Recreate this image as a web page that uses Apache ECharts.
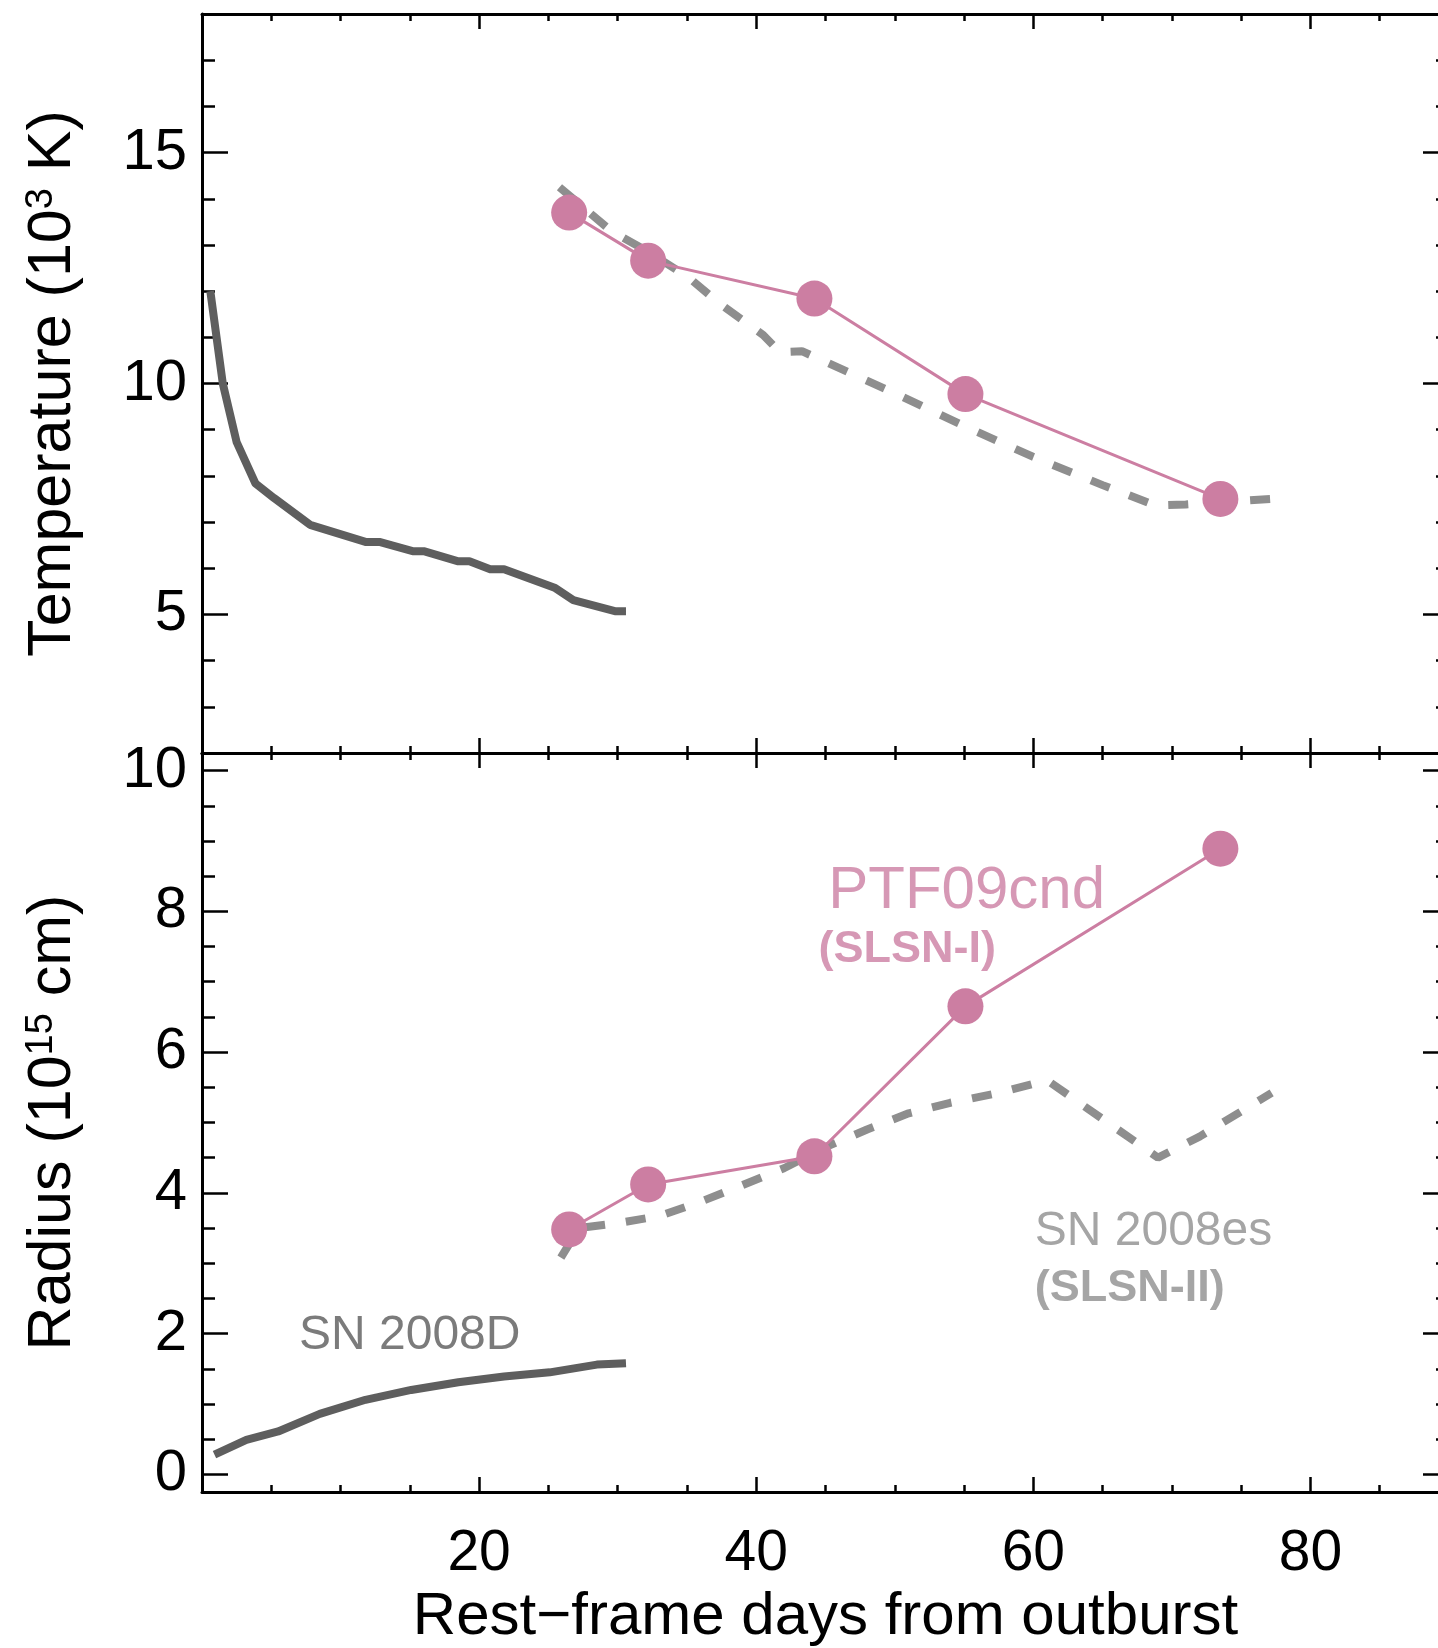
<!DOCTYPE html>
<html><head><meta charset="utf-8">
<script src="https://cdn.jsdelivr.net/npm/echarts@6/dist/echarts.min.js"></script>
<style>html,body{margin:0;padding:0;background:#fff;overflow:hidden;width:1438px;height:1648px}#c{width:1452px;height:1648px}</style>
</head><body><div id="c"></div><script>
// ---- data ----
const sn08D_days_T = [0.6,1.5,2.5,3.85,5.2,7.8,11.8,12.8,15.2,16.0,18.5,19.3,20.8,21.8,25.5,26.8,29.8,30.6];
const sn08D_T      = [12.0,10.0,8.73,7.84,7.52,6.94,6.57,6.57,6.37,6.37,6.15,6.15,5.98,5.98,5.57,5.31,5.07,5.07];
const sn08D_days_R = [0.9,3.2,5.5,8.5,11.8,15.1,18.5,21.8,25.1,28.5,30.6];
const sn08D_R      = [0.28,0.49,0.61,0.86,1.06,1.2,1.31,1.39,1.45,1.56,1.58];

const ptf_days = [26.5,32.2,44.2,55.1,73.5];
const ptf_T    = [13.7,12.66,11.84,9.77,7.5];
const ptf_R    = [3.48,4.12,4.52,6.65,8.89];

const sn08es_days_T = [25.8,29.5,32.1,35.1,37.4,40.5,41.7,43.3,50,55,60,65,68.8,71,77.2];
const sn08es_T      = [14.25,13.31,12.87,12.3,11.72,11.05,10.68,10.7,9.79,9.08,8.41,7.8,7.36,7.38,7.5];
const sn08es_days_R = [25.9,27.2,30,33,35.8,38,42,45,48,51,54,57.5,61,65,69,72,77.2];
const sn08es_R      = [3.08,3.5,3.57,3.67,3.86,4.03,4.35,4.65,4.9,5.13,5.28,5.42,5.6,5.05,4.5,4.8,5.42];

const xMajorTicks = [20,40,60,80];
const xMinorTicks = [5,10,15,20,25,30,35,40,45,50,55,60,65,70,75,80,85];
const tMajorTicks = [5,10,15];
const tMinorTicks = [3,4,5,6,7,8,9,10,11,12,13,14,15,16,17];
const rMajorTicks = [0,2,4,6,8,10];
const rMinorTicks = [0,0.5,1,1.5,2,2.5,3,3.5,4,4.5,5,5.5,6,6.5,7,7.5,8,8.5,9,9.5,10];

const annText  = ['PTF09cnd','(SLSN-I)','SN 2008es','(SLSN-II)','SN 2008D'];
const annDay   = [45.2,44.5,60.1,60.1,7.0];
const annValue = [8.28,7.45,3.45,2.64,1.97];

// ---- styling ----
const FONT = '"Liberation Sans", Arial, Helvetica, sans-serif';
const PINK = '#cc7ea2', DARK = '#5e5e5e', DASH = '#8e8e8e';
const annStyle = [
  {color: PINK, fontSize: 60, fontWeight: 'normal'},
  {color: PINK, fontSize: 45, fontWeight: 'bold'},
  {color: '#8e8e8e', fontSize: 48, fontWeight: 'normal'},
  {color: '#8e8e8e', fontSize: 45, fontWeight: 'bold'},
  {color: '#5a5a5a', fontSize: 48, fontWeight: 'normal'}
];

const grids = [
  {left: 202, width: 1247, top: 14, height: 739},
  {left: 202, width: 1247, top: 753, height: 740}
];
const XMIN = 0, XMAX = 90;
const yRanges = [[2,18],[-0.25,10.25]];
const yMaj = [tMajorTicks, rMajorTicks], yMin = [tMinorTicks, rMinorTicks];

const xAxes = [], yAxes = [];
function xAx(g, pos, major, showLabel, showName) {
  const a = {
    type: 'value', gridIndex: g, position: pos, min: XMIN, max: XMAX,
    axisLine: {show: major, onZero: false, lineStyle: {color: '#000', width: 3}},
    axisTick: {show: true, inside: true, length: major ? 15 : 7,
      customValues: major ? xMajorTicks : xMinorTicks, lineStyle: {color: '#000', width: 2.5}},
    axisLabel: {show: showLabel, customValues: xMajorTicks, color: '#000', fontFamily: FONT, fontSize: 57, margin: 34},
    splitLine: {show: false}
  };
  if (showName) {
    a.name = 'Rest\u2212frame days from outburst';
    a.nameLocation = 'middle';
    a.nameGap = 95;
    a.nameTextStyle = {color: '#000', fontFamily: FONT, fontSize: 60};
  }
  xAxes.push(a);
  return xAxes.length - 1;
}
function yAx(g, pos, major, showLabel, name) {
  const a = {
    type: 'value', gridIndex: g, position: pos, min: yRanges[g][0], max: yRanges[g][1],
    axisLine: {show: major, onZero: false, lineStyle: {color: '#000', width: 3}},
    axisTick: {show: true, inside: true, length: major ? 26 : 13,
      customValues: major ? yMaj[g] : yMin[g], lineStyle: {color: '#000', width: 2.5}},
    axisLabel: {show: showLabel, customValues: yMaj[g], color: '#000', fontFamily: FONT, fontSize: 58, margin: 15},
    splitLine: {show: false}
  };
  if (name) {
    a.name = name;
    a.nameLocation = 'middle';
    a.nameRotate = 90;
    a.nameGap = 118;
    a.nameTextStyle = {color: '#000', fontFamily: FONT, fontSize: 61,
      rich: {sup: {fontSize: 38, fontFamily: FONT, color: '#000', verticalAlign: 'top'}}};
  }
  yAxes.push(a);
  return yAxes.length - 1;
}

const idx = [];
for (let g = 0; g < 2; g++) {
  const xb = xAx(g, 'bottom', true, g === 1, g === 1);
  xAx(g, 'bottom', false, false, false);
  xAx(g, 'top', true, false, false);
  xAx(g, 'top', false, false, false);
  const yl = yAx(g, 'left', true, true, g === 0 ? 'Temperature (10{sup|3} K)' : 'Radius (10{sup|15} cm)');
  yAx(g, 'left', false, false, null);
  yAx(g, 'right', true, false, null);
  yAx(g, 'right', false, false, null);
  idx.push({x: xb, y: yl});
}

function zip(a, b) { return a.map((v, i) => [v, b[i]]); }

const series = [];
function solid(g, xs, ys) {
  series.push({type: 'line', xAxisIndex: idx[g].x, yAxisIndex: idx[g].y, data: zip(xs, ys),
    showSymbol: false, symbol: 'none', lineStyle: {color: DARK, width: 8, cap: 'butt', join: 'round'}, z: 2, silent: true});
}
function dashed(g, xs, ys) {
  series.push({type: 'line', xAxisIndex: idx[g].x, yAxisIndex: idx[g].y, data: zip(xs, ys),
    showSymbol: false, symbol: 'none', lineStyle: {color: DASH, width: 8, type: [20, 21], cap: 'butt'}, z: 3, silent: true});
}
function ptf(g, xs, ys) {
  series.push({type: 'line', xAxisIndex: idx[g].x, yAxisIndex: idx[g].y, data: zip(xs, ys),
    symbol: 'circle', symbolSize: 36, showSymbol: true,
    itemStyle: {color: PINK, opacity: 1}, lineStyle: {color: PINK, width: 3}, z: 4, silent: true});
}
solid(0, sn08D_days_T, sn08D_T);
dashed(0, sn08es_days_T, sn08es_T);
ptf(0, ptf_days, ptf_T);
solid(1, sn08D_days_R, sn08D_R);
dashed(1, sn08es_days_R, sn08es_R);
ptf(1, ptf_days, ptf_R);

series.push({
  type: 'scatter', xAxisIndex: idx[1].x, yAxisIndex: idx[1].y, symbolSize: 0, silent: true, z: 5,
  data: annText.map((t, i) => ({
    value: [annDay[i], annValue[i]], name: t,
    label: Object.assign({show: true, formatter: t, position: [0, 0], align: 'left', verticalAlign: 'middle',
      fontFamily: FONT}, annStyle[i])
  }))
});

const chart = echarts.init(document.getElementById('c'), null, {renderer: 'canvas'});
chart.setOption({
  animation: false,
  backgroundColor: '#ffffff',
  grid: grids,
  xAxis: xAxes,
  yAxis: yAxes,
  series: series
});
</script></body></html>
